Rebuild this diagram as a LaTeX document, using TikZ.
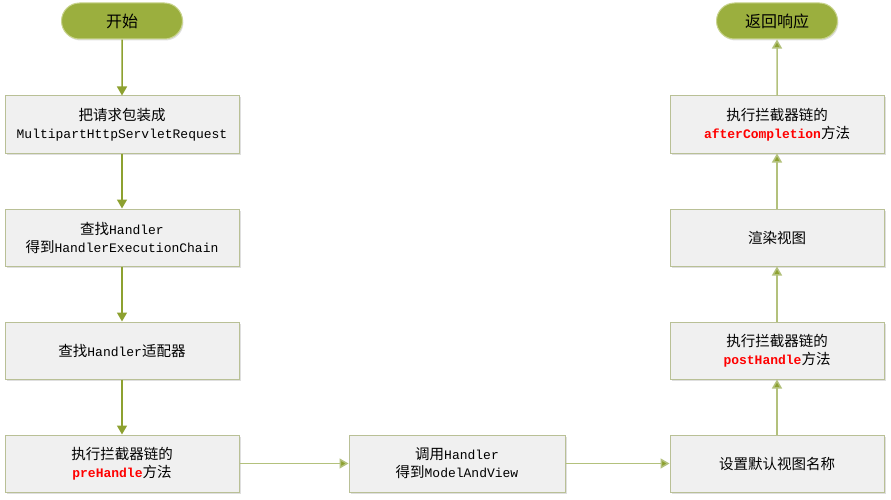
\documentclass[tikz,border=0pt]{standalone}
\usepackage{fontspec}
\setmainfont{Noto Sans CJK SC}
\setmonofont{Liberation Mono}
\usetikzlibrary{shadows}
\usetikzlibrary{shapes.misc}
\usetikzlibrary{arrows.meta}
\definecolor{pillgreen}{HTML}{9BAF3E}
\definecolor{pillrim}{HTML}{C9D48E}
\definecolor{boxfill}{HTML}{F0F0F0}
\definecolor{boxrim}{HTML}{B9C096}
\definecolor{flowdark}{HTML}{8DA130}
\definecolor{flowlight}{HTML}{B3C17C}
\newcommand{\code}[1]{{\ttfamily\fontsize{13}{18}\selectfont #1}}
\newcommand{\hot}[1]{{\ttfamily\bfseries\fontsize{13}{18}\selectfont\color{red}#1}}
\tikzset{
	basenode/.style = {
		align=center,
		inner sep=0pt,
		text centered,
		font=\fontsize{14.5}{18}\selectfont
	},
	node_pill/.style = {
		basenode,
		rounded rectangle,
		draw=pillrim,
		fill=pillgreen,
		line width=1pt,
		minimum width=121pt,
		minimum height=36pt,
		font=\fontsize{16}{18}\selectfont,
		drop shadow={shadow xshift=1pt, shadow yshift=-1.5pt, opacity=0.25}
	},
	node_step/.style = {
		basenode,
		rectangle,
		draw=boxrim,
		fill=boxfill,
		line width=1pt,
		minimum width=234pt,
		minimum height=57pt,
		drop shadow={shadow xshift=1.5pt, shadow yshift=-1.5pt, opacity=0.25}
	},
	node_step_mid/.style = {
		node_step,
		minimum width=216pt
	},
	node_step_right/.style = {
		node_step,
		minimum width=214pt
	},
	flow/.style = {
		-{Triangle[length=9pt,width=10pt,fill=flowdark]},
		draw=flowdark,
		line width=1.5pt
	},
	flow_light/.style = {
		flow,
		draw=flowlight
	},
}
\begin{document}
\begin{tikzpicture}[x=1pt,y=-1pt]
\useasboundingbox (0,0) rectangle (891,500);
% left column
\node [node_pill] (start) at (122,21) {开始};
\node [node_step] (wrap) at (122,124.5) {把请求包装成\\\code{MultipartHttpServletRequest}};
\node [node_step] (find) at (122,237.5) {查找\code{Handler}\\得到\code{HandlerExecutionChain}};
\node [node_step] (adapter) at (122,350.5) {查找\code{Handler}适配器};
\node [node_step] (pre) at (122,463.5) {执行拦截器链的\\\hot{preHandle}方法};
% bottom middle
\node [node_step_mid] (invoke) at (457,463.5) {调用\code{Handler}\\得到\code{ModelAndView}};
% right column
\node [node_step_right] (viewname) at (777,463.5) {设置默认视图名称};
\node [node_step_right] (post) at (777,350.5) {执行拦截器链的\\\hot{postHandle}方法};
\node [node_step_right] (render) at (777,237.5) {渲染视图};
\node [node_step_right] (after) at (777,124.5) {执行拦截器链的\\\hot{afterCompletion}方法};
\node [node_pill] (finish) at (777,21) {返回响应};
% connectors
\draw [flow] (start) -- (wrap);
\draw [flow] (wrap) -- (find);
\draw [flow] (find) -- (adapter);
\draw [flow] (adapter) -- (pre);
\draw [flow_light] (pre) -- (invoke);
\draw [flow_light] (invoke) -- (viewname);
\draw [flow_light] (viewname) -- (post);
\draw [flow_light] (post) -- (render);
\draw [flow_light] (render) -- (after);
\draw [flow_light] (after) -- (finish);
\end{tikzpicture}
\end{document}
